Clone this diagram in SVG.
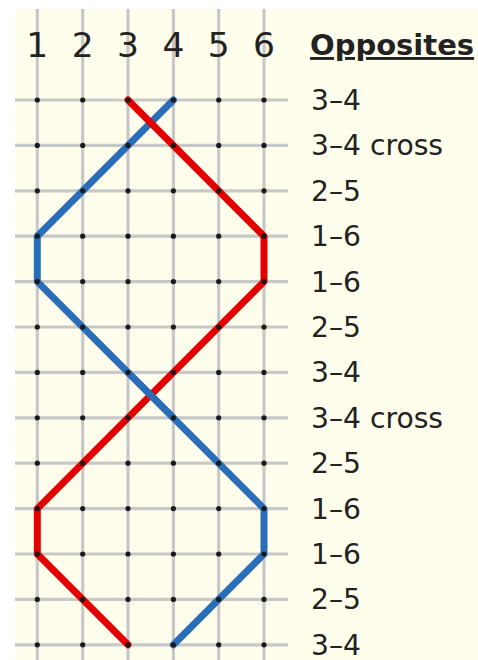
<svg xmlns="http://www.w3.org/2000/svg" width="478" height="660" viewBox="0 0 478 660">
<style>
.grid{stroke:#c8c8c8;stroke-width:3.2;fill:none}
.hdr{font-family:"DejaVu Sans",sans-serif;font-size:34.5px;fill:#222;text-anchor:middle}
.lbl{font-family:"DejaVu Sans",sans-serif;font-size:28.2px;fill:#222}
.ttl{font-family:"DejaVu Sans",sans-serif;font-size:29px;font-weight:bold;fill:#222;text-decoration:underline}
.red{stroke:#e20000;stroke-width:7;fill:none;stroke-linecap:round;stroke-linejoin:round}
.blue{stroke:#2a6db8;stroke-width:7;fill:none;stroke-linecap:round;stroke-linejoin:round}
.dot{fill:#1a1a1a}
</style>
<defs>
<circle id="d" r="2.6" class="dot"/>
</defs>
<rect x="15" y="9" width="463" height="651" fill="#fffeec"/>
<g id="grid">
<path class="grid" d="M37.3,9V660M82.7,9V660M128,9V660M173.4,9V660M218.7,9V660M264,9V660"/>
<path class="grid" d="M15,100H288M15,145.4H288M15,190.8H288M15,236.2H288M15,281.6H288M15,327H288M15,372.4H288M15,417.8H288M15,463.2H288M15,508.6H288M15,554H288M15,599.4H288M15,644.8H288"/>
</g>
<g id="headers">
<text class="hdr" x="37.3" y="57">1</text>
<text class="hdr" x="82.7" y="57">2</text>
<text class="hdr" x="128" y="57">3</text>
<text class="hdr" x="173.4" y="57">4</text>
<text class="hdr" x="218.7" y="57">5</text>
<text class="hdr" x="264" y="57">6</text>
</g>
<g id="connectors">
<polyline id="blue-thread" class="blue" points="173.4,100 37.3,236.2 37.3,281.6 264,508.6 264,554 173.4,644.8"/>
<polyline id="red-thread" class="red" points="128,100 264,236.2 264,281.6 37.3,508.6 37.3,554 128,644.8"/>
<line class="blue" x1="128" y1="372.4" x2="173.4" y2="417.8" style="stroke-linecap:butt"/>
</g>
<g id="dots">
<g id="row0"><use href="#d" x="37.3" y="100"/><use href="#d" x="82.7" y="100"/><use href="#d" x="128" y="100"/><use href="#d" x="173.4" y="100"/><use href="#d" x="218.7" y="100"/><use href="#d" x="264" y="100"/></g>
<g id="row1"><use href="#d" x="37.3" y="145.4"/><use href="#d" x="82.7" y="145.4"/><use href="#d" x="128" y="145.4"/><use href="#d" x="173.4" y="145.4"/><use href="#d" x="218.7" y="145.4"/><use href="#d" x="264" y="145.4"/></g>
<g id="row2"><use href="#d" x="37.3" y="190.8"/><use href="#d" x="82.7" y="190.8"/><use href="#d" x="128" y="190.8"/><use href="#d" x="173.4" y="190.8"/><use href="#d" x="218.7" y="190.8"/><use href="#d" x="264" y="190.8"/></g>
<g id="row3"><use href="#d" x="37.3" y="236.2"/><use href="#d" x="82.7" y="236.2"/><use href="#d" x="128" y="236.2"/><use href="#d" x="173.4" y="236.2"/><use href="#d" x="218.7" y="236.2"/><use href="#d" x="264" y="236.2"/></g>
<g id="row4"><use href="#d" x="37.3" y="281.6"/><use href="#d" x="82.7" y="281.6"/><use href="#d" x="128" y="281.6"/><use href="#d" x="173.4" y="281.6"/><use href="#d" x="218.7" y="281.6"/><use href="#d" x="264" y="281.6"/></g>
<g id="row5"><use href="#d" x="37.3" y="327"/><use href="#d" x="82.7" y="327"/><use href="#d" x="128" y="327"/><use href="#d" x="173.4" y="327"/><use href="#d" x="218.7" y="327"/><use href="#d" x="264" y="327"/></g>
<g id="row6"><use href="#d" x="37.3" y="372.4"/><use href="#d" x="82.7" y="372.4"/><use href="#d" x="128" y="372.4"/><use href="#d" x="173.4" y="372.4"/><use href="#d" x="218.7" y="372.4"/><use href="#d" x="264" y="372.4"/></g>
<g id="row7"><use href="#d" x="37.3" y="417.8"/><use href="#d" x="82.7" y="417.8"/><use href="#d" x="128" y="417.8"/><use href="#d" x="173.4" y="417.8"/><use href="#d" x="218.7" y="417.8"/><use href="#d" x="264" y="417.8"/></g>
<g id="row8"><use href="#d" x="37.3" y="463.2"/><use href="#d" x="82.7" y="463.2"/><use href="#d" x="128" y="463.2"/><use href="#d" x="173.4" y="463.2"/><use href="#d" x="218.7" y="463.2"/><use href="#d" x="264" y="463.2"/></g>
<g id="row9"><use href="#d" x="37.3" y="508.6"/><use href="#d" x="82.7" y="508.6"/><use href="#d" x="128" y="508.6"/><use href="#d" x="173.4" y="508.6"/><use href="#d" x="218.7" y="508.6"/><use href="#d" x="264" y="508.6"/></g>
<g id="row10"><use href="#d" x="37.3" y="554"/><use href="#d" x="82.7" y="554"/><use href="#d" x="128" y="554"/><use href="#d" x="173.4" y="554"/><use href="#d" x="218.7" y="554"/><use href="#d" x="264" y="554"/></g>
<g id="row11"><use href="#d" x="37.3" y="599.4"/><use href="#d" x="82.7" y="599.4"/><use href="#d" x="128" y="599.4"/><use href="#d" x="173.4" y="599.4"/><use href="#d" x="218.7" y="599.4"/><use href="#d" x="264" y="599.4"/></g>
<g id="row12"><use href="#d" x="37.3" y="644.8"/><use href="#d" x="82.7" y="644.8"/><use href="#d" x="128" y="644.8"/><use href="#d" x="173.4" y="644.8"/><use href="#d" x="218.7" y="644.8"/><use href="#d" x="264" y="644.8"/></g>
</g>
<g id="labels">
<text class="ttl" x="310" y="55">Opposites</text>
<text class="lbl" x="311" y="110">3–4</text>
<text class="lbl" x="311" y="155.4">3–4 cross</text>
<text class="lbl" x="311" y="200.8">2–5</text>
<text class="lbl" x="311" y="246.2">1–6</text>
<text class="lbl" x="311" y="291.6">1–6</text>
<text class="lbl" x="311" y="337">2–5</text>
<text class="lbl" x="311" y="382.4">3–4</text>
<text class="lbl" x="311" y="427.8">3–4 cross</text>
<text class="lbl" x="311" y="473.2">2–5</text>
<text class="lbl" x="311" y="518.6">1–6</text>
<text class="lbl" x="311" y="564">1–6</text>
<text class="lbl" x="311" y="609.4">2–5</text>
<text class="lbl" x="311" y="654.8">3–4</text>
</g>
</svg>
